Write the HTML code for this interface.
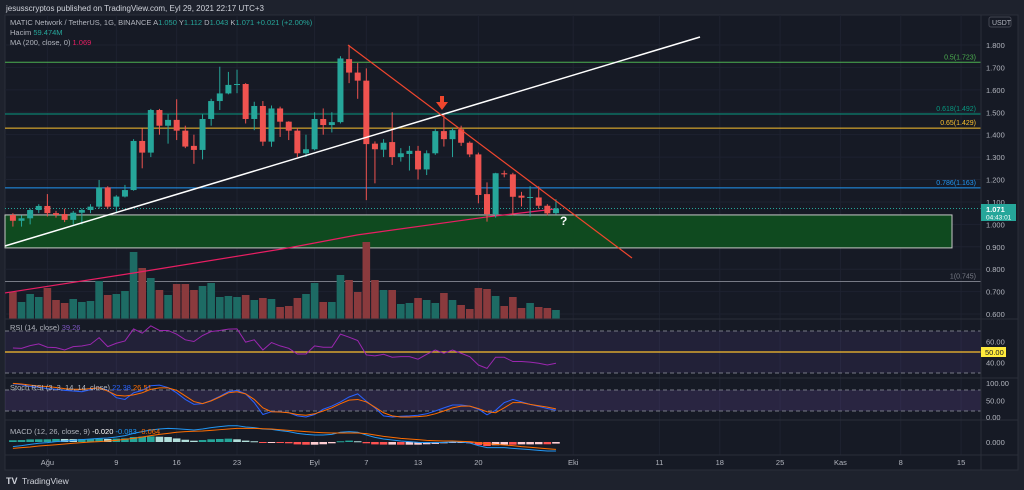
<!DOCTYPE html>
<html><head><meta charset="utf-8"><style>
html,body{margin:0;padding:0;background:#1e222d;width:1024px;height:490px;overflow:hidden}
svg{display:block;font-family:"Liberation Sans",sans-serif}
</style></head><body>
<svg id="c" width="1024" height="490" xmlns="http://www.w3.org/2000/svg">
<rect x="0" y="0" width="1024" height="490" fill="#1e222d"/>
<rect x="5" y="15" width="1013" height="455" fill="#161a25" stroke="#2a2e39"/>
<text x="6" y="11" font-size="8" fill="#d1d4dc">jesusscryptos published on TradingView.com, Eyl 29, 2021 22:17 UTC+3</text>
<g id="grid"></g>
<g id="main"></g>
<g id="ind"></g>
<g id="axes"></g>
<g font-size="7.5">
<text x="10" y="25" fill="#b2b5be">MATIC Network / TetherUS, 1G, BINANCE  A<tspan fill="#26a69a">1.050</tspan>  Y<tspan fill="#26a69a">1.112</tspan>  D<tspan fill="#26a69a">1.043</tspan>  K<tspan fill="#26a69a">1.071</tspan>  <tspan fill="#26a69a">+0.021 (+2.00%)</tspan></text>
<text x="10" y="35" fill="#b2b5be">Hacim  <tspan fill="#26a69a">59.474M</tspan></text>
<text x="10" y="45" fill="#b2b5be">MA (200, close, 0)  <tspan fill="#e91e63">1.069</tspan></text>
<text x="10" y="330" fill="#b2b5be">RSI (14, close)  <tspan fill="#7e57c2">39.26</tspan></text>
<text x="10" y="390" fill="#b2b5be">Stoch RSI (3, 3, 14, 14, close)  <tspan fill="#2962ff">22.38</tspan>  <tspan fill="#ff6d00">26.51</tspan></text>
<text x="10" y="434" fill="#b2b5be">MACD (12, 26, close, 9)  <tspan fill="#fff">-0.020</tspan>  <tspan fill="#2196f3">-0.083</tspan>  <tspan fill="#ff6d00">-0.064</tspan></text>
</g>
<g>
<text x="6" y="484" font-size="9" font-weight="bold" fill="#d1d4dc">TV</text>
<text x="22" y="484" font-size="8.5" fill="#d1d4dc">TradingView</text>
</g>
</svg>
<script>
const opens=[1.042,1.016,1.027,1.064,1.082,1.05,1.046,1.02,1.052,1.064,1.079,1.165,1.079,1.124,1.153,1.372,1.32,1.51,1.44,1.466,1.418,1.35,1.332,1.47,1.55,1.584,1.622,1.626,1.47,1.528,1.369,1.517,1.458,1.418,1.317,1.335,1.47,1.443,1.456,1.737,1.677,1.641,1.36,1.333,1.367,1.30,1.314,1.328,1.245,1.317,1.416,1.38,1.424,1.364,1.312,1.135,1.046,1.228,1.223,1.128,1.12,1.12,1.083,1.05];
const closes=[1.016,1.027,1.064,1.082,1.05,1.042,1.02,1.052,1.064,1.079,1.165,1.079,1.124,1.153,1.372,1.32,1.51,1.44,1.466,1.418,1.347,1.332,1.47,1.55,1.584,1.622,1.626,1.47,1.528,1.369,1.517,1.458,1.418,1.317,1.335,1.47,1.443,1.456,1.74,1.677,1.641,1.358,1.335,1.364,1.30,1.317,1.328,1.245,1.317,1.416,1.38,1.42,1.364,1.312,1.131,1.046,1.228,1.223,1.123,1.119,1.122,1.083,1.049,1.071];
const highs=[1.05,1.04,1.07,1.09,1.135,1.06,1.07,1.06,1.07,1.09,1.198,1.17,1.13,1.176,1.38,1.428,1.515,1.515,1.49,1.558,1.44,1.40,1.49,1.56,1.703,1.68,1.69,1.63,1.547,1.55,1.53,1.525,1.46,1.43,1.40,1.50,1.517,1.50,1.75,1.80,1.72,1.696,1.37,1.38,1.50,1.34,1.35,1.35,1.33,1.425,1.488,1.43,1.44,1.37,1.32,1.187,1.23,1.24,1.23,1.145,1.17,1.17,1.09,1.112];
const lows=[0.99,0.99,1.0,1.05,1.035,1.03,1.01,1.0,1.0,1.05,1.07,1.07,1.05,1.12,1.15,1.25,1.30,1.40,1.36,1.376,1.34,1.27,1.29,1.44,1.51,1.58,1.585,1.45,1.42,1.35,1.346,1.39,1.376,1.30,1.30,1.33,1.40,1.41,1.45,1.63,1.56,1.108,1.183,1.30,1.265,1.28,1.24,1.20,1.22,1.31,1.347,1.30,1.35,1.30,1.094,1.012,1.03,1.21,1.04,1.08,1.035,1.07,1.04,1.043];
const volumes=[27,17,25,22,31,19,16,20,17,18,38,24,25,28,67,51,41,29,24,35,35,29,33,36,22,23,22,24,19,21,20,12,13,21,25,36,17,17,44,39,27,77,39,29,29,15,16,21,19,16,26,19,14,10,31,30,23,13,22,11,16,12,11,9];
const maIdx=[-1,14,32,40,55,63];
const maVals=[0.694,0.783,0.895,0.953,1.033,1.069];
const rsiVals=[53.8,53.5,56.1,57.7,54.5,54.2,51.9,55.1,55.7,57.3,63.7,55.1,58.3,60.5,72,67.9,74.9,70.5,70.5,67,61.6,60,65.7,69.5,70.5,71.8,72,59.4,61.6,51.9,59,55.8,53.5,48.1,48.1,55.8,54.5,54.5,67,64.1,60.9,47.2,46.3,47.8,45,45.6,45.6,43.1,47.8,51.9,48.8,51.9,48.8,45.6,37.6,34.4,45,45,40.9,40.9,40.3,39.3,37.6,39.3];
const stochK=[98,95,90,88,84,82,79,77,75,81,87,79,58,53,72,79,92,94,87,72,53,39,41,50,62,75,79,69,44,10,18,18,15,6,3,10,25,34,46,60,69,48,29,6,3,5,6,8,12,20,29,37,37,34,25,9,22,44,53,46,39,33,27,22];
const stochD=[99,97,94,91,90,87,84,82,82,84,86,77,65,63,66,72,82,86,86,79,63,47,41,49,60,72,75,69,53,29,18,17,15,10,8,12,20,29,41,51,53,46,31,15,6,3,3,4,6,12,20,29,34,34,27,18,15,29,44,44,39,35,31,26];
const macdVals=[-0.043,-0.034,-0.022,-0.012,-0.006,0.003,0.009,0.015,0.022,0.028,0.034,0.037,0.046,0.059,0.080,0.096,0.111,0.120,0.126,0.123,0.117,0.111,0.120,0.133,0.142,0.151,0.151,0.139,0.133,0.120,0.117,0.105,0.096,0.080,0.071,0.065,0.065,0.071,0.090,0.096,0.090,0.065,0.043,0.028,0.019,0.009,0.003,-0.003,-0.006,-0.006,-0.003,0,0,-0.009,-0.034,-0.052,-0.052,-0.052,-0.059,-0.065,-0.071,-0.077,-0.083,-0.083];
const signalVals=[-0.059,-0.052,-0.046,-0.037,-0.031,-0.025,-0.019,-0.012,-0.006,0,0.003,0.009,0.015,0.025,0.034,0.046,0.059,0.071,0.080,0.090,0.096,0.099,0.102,0.108,0.114,0.120,0.126,0.126,0.126,0.123,0.120,0.114,0.108,0.102,0.096,0.090,0.086,0.083,0.083,0.083,0.083,0.077,0.065,0.052,0.043,0.034,0.028,0.022,0.015,0.012,0.009,0.009,0.006,0.003,-0.006,-0.015,-0.022,-0.028,-0.034,-0.043,-0.049,-0.056,-0.062,-0.068];
const priceTicks=[1.8,1.7,1.6,1.5,1.4,1.3,1.2,1.1,1.0,0.9,0.8,0.7,0.6];
const dateLabels=["Ağu","9","16","23","Eyl","7","13","20","Eki","11","18","25","Kas","8","15"];
const dateDayOffsets=[4,12,19,26,35,41,47,54,65,75,82,89,96,103,110];
const fibLevels=[0.5,0.618,0.65,0.786,1];
const fibPrices=[1.723,1.492,1.429,1.163,0.745];
const fibColors=["#4caf50","#089981","#fbc02d","#2196f3","#787b86"];

const NS="http://www.w3.org/2000/svg";
function mk(parent,tag,attrs){const e=document.createElementNS(NS,tag);for(const k in attrs)e.setAttribute(k,attrs[k]);parent.appendChild(e);return e;}
const X=i=>12.9+i*8.62;
const Y=p=>45+(1.8-p)*224.2;
const volBase=319, VY=v=>volBase-v;
const RY=r=>352-(r-50)*1.05;
const SY=s=>418-s*0.35;
const MY=m=>442-m*108;
const main=document.getElementById('main'),ind=document.getElementById('ind'),grid=document.getElementById('grid'),axes=document.getElementById('axes');
const PR=981;

priceTicks.forEach(p=>{const l=mk(grid,'line',{x1:5,x2:PR,y1:Y(p),y2:Y(p),stroke:'#1e2230','stroke-width':1});

});
dateDayOffsets.forEach(d=>{const l=mk(grid,'line',{x1:X(d),x2:X(d),y1:15,y2:455,stroke:'#1e2230','stroke-width':1});

});

const box=mk(main,'rect',{x:5,y:Y(1.042),width:947,height:Y(0.895)-Y(1.042),fill:'#0f4a1f',stroke:'#c8c8c8','stroke-width':1});



fibLevels.forEach((lv,k)=>{const y=Y(fibPrices[k]);
const l=mk(main,'line',{x1:5,x2:PR,y1:y,y2:y,stroke:fibColors[k],'stroke-width':1});


const t=mk(main,'text',{x:976,y:y-3,'font-size':7,fill:fibColors[k],'text-anchor':'end'});


t.textContent=lv+'('+fibPrices[k].toFixed(3)+')';});

volumes.forEach((v,i)=>{const up=closes[i]>=opens[i];
const r=mk(main,'rect',{x:X(i)-3.8,y:VY(v),width:7.6,height:v,fill:up?'#1d6b64':'#8a3a3d'});

});

const maPts=maIdx.map((ix,k)=>Math.max(5,X(ix))+','+Y(maVals[k])).join(' ');
const ma=mk(main,'polyline',{points:maPts,fill:'none',stroke:'#e91e63','stroke-width':1.2});



const cp=mk(main,'line',{x1:5,x2:PR,y1:Y(closes[63]),y2:Y(closes[63]),stroke:'#26a69a','stroke-width':1,'stroke-dasharray':'1 2'});



opens.forEach((o,i)=>{const c=closes[i],up=c>=o,col=up?'#26a69a':'#ef5350';
const w=mk(main,'line',{x1:X(i),x2:X(i),y1:Y(highs[i]),y2:Y(lows[i]),stroke:col,'stroke-width':1});


const b=mk(main,'rect',{x:X(i)-3,y:Y(Math.max(o,c)),width:6,height:Math.max(1,Math.abs(Y(o)-Y(c))),fill:col});

});

const wl=mk(main,'line',{x1:5,y1:246,x2:700,y2:37,stroke:'#ffffff','stroke-width':1.5});


const rl=mk(main,'line',{x1:348,y1:45,x2:632,y2:258,stroke:'#f0462d','stroke-width':1.2});


const ar=mk(main,'path',{d:'M440,96 L444,96 L444,102 L448,102 L442,110 L436,102 L440,102 Z',fill:'#f0462d'});


const q=mk(main,'text',{x:560,y:225,'font-size':12,'font-weight':'bold',fill:'#ffffff'});


q.textContent='?';

[319,378,420,455].forEach(y=>{const l=mk(axes,'line',{x1:5,x2:1018,y1:y,y2:y,stroke:'#2a2e39','stroke-width':1});

});
const av=mk(axes,'line',{x1:PR,x2:PR,y1:15,y2:470,stroke:'#2a2e39','stroke-width':1});



const rb=mk(ind,'rect',{x:5,y:RY(70),width:PR-5,height:RY(30)-RY(70),fill:'#7e57c2','fill-opacity':0.12});


[70,30].forEach(v=>{const l=mk(ind,'line',{x1:5,x2:PR,y1:RY(v),y2:RY(v),stroke:'#787b86','stroke-dasharray':'4 3'});

});
const r50=mk(ind,'line',{x1:5,x2:PR,y1:RY(50),y2:RY(50),stroke:'#fbc02d','stroke-width':1.3});


const rl2=mk(ind,'polyline',{points:rsiVals.map((v,i)=>X(i)+','+RY(v)).join(' '),fill:'none',stroke:'#9c27b0','stroke-width':1});



const sb=mk(ind,'rect',{x:5,y:SY(80),width:PR-5,height:SY(20)-SY(80),fill:'#7e57c2','fill-opacity':0.18});


[80,20].forEach(v=>{const l=mk(ind,'line',{x1:5,x2:PR,y1:SY(v),y2:SY(v),stroke:'#787b86','stroke-dasharray':'4 3'});

});
const sk=mk(ind,'polyline',{points:stochK.map((v,i)=>X(i)+','+SY(v)).join(' '),fill:'none',stroke:'#2962ff','stroke-width':1});


const sd=mk(ind,'polyline',{points:stochD.map((v,i)=>X(i)+','+SY(v)).join(' '),fill:'none',stroke:'#ff6d00','stroke-width':1});



macdVals.forEach((m,i)=>{const h=m-signalVals[i],prev=i?macdVals[i-1]-signalVals[i-1]:h;
let col=h>=0?(h>=prev?'#26a69a':'#b2dfdb'):(h<prev?'#ff5252':'#ffcdd2');
const y0=MY(0),y1=MY(h);
const r=mk(ind,'rect',{x:X(i)-3.8,y:Math.min(y0,y1),width:7.6,height:Math.max(1,Math.abs(y1-y0)),fill:col});

});
const ml=mk(ind,'polyline',{points:macdVals.map((v,i)=>X(i)+','+MY(v)).join(' '),fill:'none',stroke:'#2196f3','stroke-width':1});


const sl=mk(ind,'polyline',{points:signalVals.map((v,i)=>X(i)+','+MY(v)).join(' '),fill:'none',stroke:'#ff6d00','stroke-width':1});



priceTicks.forEach(p=>{const t=mk(axes,'text',{x:986,y:Y(p)+3,'font-size':7.5,fill:'#b2b5be'});


t.textContent=p.toFixed(3);});
const ub=mk(axes,'rect',{x:989,y:17,width:22,height:10,rx:2,fill:'none',stroke:'#434651'});


const ut=mk(axes,'text',{x:992,y:25,'font-size':7,fill:'#b2b5be'});


ut.textContent='USDT';
const pb=mk(axes,'rect',{x:981,y:204,width:35,height:17,fill:'#26a69a'});


const pt=mk(axes,'text',{x:986,y:212,'font-size':7.5,'font-weight':'bold',fill:'#fff'});


pt.textContent='1.071';
const ct=mk(axes,'text',{x:986,y:219.5,'font-size':6.5,fill:'#fff'});


ct.textContent='04:43:01';
[[60,'60.00'],[40,'40.00']].forEach(a=>{const t=mk(axes,'text',{x:986,y:RY(a[0])+3,'font-size':7.5,fill:'#b2b5be'});


t.textContent=a[1];});
const rbx=mk(axes,'rect',{x:981,y:RY(50)-5,width:25,height:10,fill:'#ffeb3b'});


const rbt=mk(axes,'text',{x:985,y:RY(50)+3,'font-size':7.5,fill:'#131722'});


rbt.textContent='50.00';
[[100,'100.00'],[50,'50.00'],[0,'0.00']].forEach(a=>{const t=mk(axes,'text',{x:986,y:Math.min(SY(a[0])+3,420),'font-size':7.5,fill:'#b2b5be'});


t.textContent=a[1];});
const mt=mk(axes,'text',{x:986,y:MY(0)+3,'font-size':7.5,fill:'#b2b5be'});


mt.textContent='0.000';
dateLabels.forEach((d,k)=>{const t=mk(axes,'text',{x:X(dateDayOffsets[k]),y:465,'font-size':7.5,fill:'#b2b5be','text-anchor':'middle'});


t.textContent=d;});
</script>
</body></html>
